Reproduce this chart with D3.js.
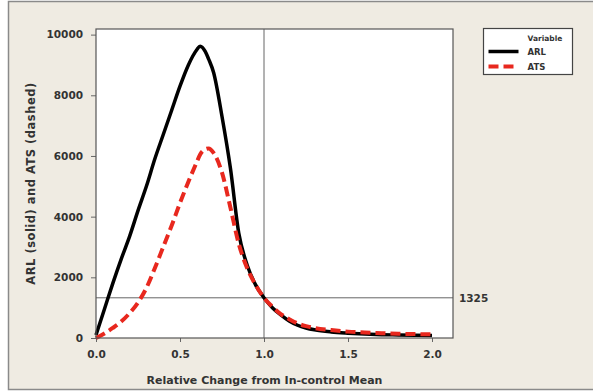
<!DOCTYPE html>
<html>
<head>
<meta charset="utf-8">
<script src="https://cdn.jsdelivr.net/npm/d3@7"></script>
<style>
  body { margin: 0; background: #fff; }
  text { font-family: "DejaVu Sans", Verdana, sans-serif; font-weight: bold; fill: #333; }
</style>
</head>
<body>
<svg id="chart" width="593" height="392"></svg>
<script>
// Relative change from in-control mean
const shifts = [0.00, 0.05, 0.10, 0.15, 0.20, 0.25, 0.30, 0.35, 0.40, 0.45, 0.50, 0.55, 0.60, 0.62, 0.65, 0.67, 0.70, 0.75, 0.80, 0.85, 0.90, 0.95, 1.00, 1.05, 1.10, 1.15, 1.20, 1.25, 1.30, 1.40, 1.50, 1.60, 1.70, 1.80, 1.90, 2.00];
const arlValues = [100, 950, 1800, 2600, 3350, 4200, 5000, 5900, 6700, 7500, 8300, 9000, 9500, 9620, 9450, 9200, 8750, 7300, 5600, 3450, 2400, 1750, 1325, 1000, 760, 560, 420, 330, 270, 200, 160, 130, 110, 100, 90, 80];
const atsValues = [0, 150, 330, 540, 820, 1170, 1650, 2300, 3000, 3700, 4450, 5150, 5800, 6050, 6220, 6250, 6100, 5450, 4300, 3100, 2300, 1750, 1325, 1030, 790, 620, 480, 390, 330, 260, 210, 180, 160, 140, 130, 120];
const xTicks = [0.0, 0.5, 1.0, 1.5, 2.0];
const yTicks = [0, 2000, 4000, 6000, 8000, 10000];
const refX = 1.0;
const refY = 1325;
const seriesNames = ["ARL", "ATS"];

const svg = d3.select("#chart");

// Cadre extérieur
svg.append("rect")
    .attr("x", 8.5).attr("y", 1.5)
    .attr("width", 590).attr("height", 388)
    .attr("fill", "#efebe2")
    .attr("stroke", "#8a8a8a")
    .attr("stroke-width", 1.5);

const plot = { left: 96, top: 29, right: 453, bottom: 338 };

const x = d3.scaleLinear().domain([0, 2.125]).range([plot.left, plot.right]);
const y = d3.scaleLinear().domain([0, 10185]).range([plot.bottom, plot.top]);

svg.append("rect")
    .attr("x", plot.left).attr("y", plot.top)
    .attr("width", plot.right - plot.left)
    .attr("height", plot.bottom - plot.top)
    .attr("fill", "#fff");

// Axes
const xAxis = svg.append("g")
    .attr("transform", `translate(0,${plot.bottom})`)
    .call(d3.axisBottom(x).tickValues(xTicks).tickFormat(d3.format(".1f")).tickSize(4).tickPadding(9));
const yAxis = svg.append("g")
    .attr("transform", `translate(${plot.left},0)`)
    .call(d3.axisLeft(y).tickValues(yTicks).tickFormat(d => d).tickSize(5).tickPadding(8));

[xAxis, yAxis].forEach(g => {
    g.select(".domain").remove();
    g.selectAll(".tick line").attr("stroke", "#666");
    g.selectAll(".tick text")
        .attr("font-family", "'DejaVu Sans', Verdana, sans-serif")
        .attr("font-weight", "bold")
        .attr("font-size", 10.5)
        .attr("fill", "#333");
});

// Lignes de référence
svg.append("line")
    .attr("x1", x(refX)).attr("x2", x(refX))
    .attr("y1", plot.top).attr("y2", plot.bottom)
    .attr("stroke", "#666").attr("stroke-width", 1);
svg.append("line")
    .attr("x1", plot.left).attr("x2", plot.right)
    .attr("y1", y(refY)).attr("y2", y(refY))
    .attr("stroke", "#666").attr("stroke-width", 1);
svg.append("text")
    .attr("x", plot.right + 6).attr("y", y(refY) + 4)
    .attr("font-size", 10.5)
    .text(refY);

// Courbes
const line = d3.line()
    .x((d, i) => x(shifts[i]))
    .y(d => y(d))
    .curve(d3.curveMonotoneX);

svg.append("path")
    .datum(arlValues)
    .attr("d", line)
    .attr("fill", "none")
    .attr("stroke", "#000")
    .attr("stroke-width", 3.5)
    .attr("stroke-linejoin", "round");

svg.append("path")
    .datum(atsValues)
    .attr("d", line)
    .attr("fill", "none")
    .attr("stroke", "#e8281e")
    .attr("stroke-width", 4)
    .attr("stroke-dasharray", "10,5");

// Cadre du panneau
svg.append("rect")
    .attr("x", plot.left).attr("y", plot.top)
    .attr("width", plot.right - plot.left)
    .attr("height", plot.bottom - plot.top)
    .attr("fill", "none")
    .attr("stroke", "#555")
    .attr("stroke-width", 1.2);

// Titres des axes
svg.append("text")
    .attr("x", (plot.left + plot.right) / 2 - 10)
    .attr("y", 384)
    .attr("text-anchor", "middle")
    .attr("font-size", 11)
    .text("Relative Change from In-control Mean");

svg.append("text")
    .attr("transform", `translate(35,${(plot.top + plot.bottom) / 2 + 0}) rotate(-90)`)
    .attr("text-anchor", "middle")
    .attr("font-size", 11.5)
    .attr("letter-spacing", 0.5)
    .text("ARL (solid) and ATS (dashed)");

// Légende
const legend = svg.append("g").attr("transform", "translate(483.5,28.5)");
legend.append("rect")
    .attr("width", 89).attr("height", 46)
    .attr("fill", "#fff")
    .attr("stroke", "#444")
    .attr("stroke-width", 1.2);
legend.append("text")
    .attr("x", 44).attr("y", 12)
    .attr("font-size", 7.5)
    .text("Variable");

seriesNames.forEach((name, i) => {
    const yy = 23 + i * 15;
    legend.append("line")
        .attr("x1", 5).attr("x2", 35)
        .attr("y1", yy).attr("y2", yy)
        .attr("stroke", i === 0 ? "#000" : "#e8281e")
        .attr("stroke-width", i === 0 ? 3.5 : 4)
        .attr("stroke-dasharray", i === 0 ? null : "10,5");
    legend.append("text")
        .attr("x", 44).attr("y", yy + 3.5)
        .attr("font-size", 8.5)
        .text(name);
});
</script>
</body>
</html>
